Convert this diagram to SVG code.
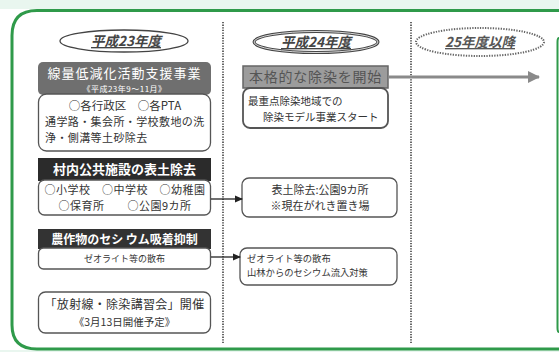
<svg xmlns="http://www.w3.org/2000/svg" width="559" height="352" viewBox="0 0 559 352">
<style>
  .jp{font-family:"Noto Sans CJK JP","Noto Sans",sans-serif}
  .wbox{fill:#fff;stroke:#555;stroke-width:1.3}
  .hd{font-family:"Noto Sans CJK JP",sans-serif;fill:#fff;text-anchor:middle}
  .tx{font-family:"Noto Sans CJK JP",sans-serif;fill:#333}
  .div{stroke:#666;stroke-width:2;stroke-dasharray:1.3 1.3;fill:none}
  .yr{font-family:"Noto Sans CJK JP",sans-serif;font-style:italic;font-weight:bold;text-anchor:middle;text-decoration:underline}
  .conn{stroke:#222;stroke-width:1.3;fill:none}
</style>
<defs>
  <marker id="ah" markerWidth="8" markerHeight="8" refX="7" refY="4" orient="auto" markerUnits="userSpaceOnUse">
    <path d="M0,0.5 L8,4 L0,7.5 Z" fill="#222"/>
  </marker>
  <marker id="ahg" markerWidth="12" markerHeight="12" refX="11" refY="6" orient="auto" markerUnits="userSpaceOnUse">
    <path d="M0,0 L12,6 L0,12 Z" fill="#8a8a8a"/>
  </marker>
</defs>
<rect width="559" height="352" fill="#fff"/>
<rect width="559" height="9" fill="#e9f6ef"/>
<rect y="350" width="559" height="2" fill="#e9f6ef"/>
<!-- outer frame -->
<path d="M559,10.5 L37,10.5 Q12,10.5 12,35.5 L12,325 Q12,349 37,349 L559,349" fill="none" stroke="#2f9a4a" stroke-width="3"/>
<path d="M559,38 Q557.5,38 557.5,42 L557.5,328 Q557.5,332 559,332" fill="none" stroke="#2f9a4a" stroke-width="2"/>
<!-- dividers -->
<line class="div" x1="223" y1="22" x2="223" y2="344"/>
<line class="div" x1="411" y1="22" x2="411" y2="344"/>

<!-- year headers -->
<g id="year23">
  <ellipse cx="124" cy="41" rx="64" ry="11" fill="#fff" stroke="#444" stroke-width="1.3"/>
  <text class="yr" x="126" y="46" font-size="13.5" fill="#444">平成23年度</text>
</g>
<g id="year24">
  <ellipse cx="316" cy="42" rx="62" ry="10.5" fill="#fff" stroke="#444" stroke-width="3"/>
  <ellipse cx="316" cy="42" rx="62" ry="10.5" fill="none" stroke="#fff" stroke-width="0.8"/>
  <text class="yr" x="316" y="47" font-size="13.5" fill="#444">平成24年度</text>
</g>
<g id="year25">
  <ellipse cx="480" cy="42" rx="64" ry="14" fill="#fff" stroke="#666" stroke-width="2" stroke-dasharray="1.3 1.3"/>
  <text class="yr" x="480" y="47" font-size="13.5" fill="#555">25年度以降</text>
</g>

<!-- col1 box1 -->
<g id="support">
  <rect x="38" y="62" width="173" height="33" rx="5" fill="#6f6f6f"/>
  <text class="hd" x="124.5" y="78" font-size="13" letter-spacing="1">線量低減化活動支援事業</text>
  <text class="hd" x="124.5" y="92" font-size="8" letter-spacing="0.5">《平成23年9～11月》</text>
  <rect class="wbox" x="38.5" y="94" width="172" height="57" rx="8"/>
  <text class="tx" x="125" y="110" font-size="11.5" text-anchor="middle">○各行政区　○各PTA</text>
  <text class="tx" x="45" y="126" font-size="11" letter-spacing="0.4">通学路・集会所・学校敷地の洗</text>
  <text class="tx" x="45" y="142" font-size="11" letter-spacing="0.4">浄・側溝等土砂除去</text>
</g>
<!-- col1 box2 -->
<g id="public">
  <rect x="38" y="158" width="173" height="23" fill="#2b2b2b"/>
  <text class="hd" x="124.5" y="174" font-size="13" font-weight="bold">村内公共施設の表土除去</text>
  <rect class="wbox" x="38.5" y="180" width="172" height="35" rx="6"/>
  <text class="tx" x="125" y="194" font-size="11" text-anchor="middle" letter-spacing="0.5">○小学校　○中学校　○幼稚園</text>
  <text class="tx" x="125" y="210" font-size="11" text-anchor="middle" letter-spacing="0.5">○保育所　　○公園9カ所</text>
</g>
<!-- col1 box3 -->
<g id="crops">
  <rect x="38" y="229" width="173" height="20" fill="#333"/>
  <text class="hd" x="124.5" y="244" font-size="12" font-weight="bold">農作物のセシ ウム吸着抑制</text>
  <rect class="wbox" x="38.5" y="248" width="172" height="21" rx="5"/>
  <text class="tx" x="124.5" y="261.5" font-size="9" text-anchor="middle">ゼオライト等の散布</text>
</g>
<!-- col1 box4 -->
<g id="seminar">
  <rect class="wbox" x="38.5" y="292" width="172" height="41" rx="7"/>
  <text class="tx" x="124.5" y="309" font-size="12" text-anchor="middle" letter-spacing="0.3">「放射線・除染講習会」開催</text>
  <text class="tx" x="124.5" y="326" font-size="10.5" text-anchor="middle">《3月13日開催予定》</text>
</g>

<!-- col2 box1 -->
<g id="fullscale">
  <rect x="243" y="66" width="145" height="22" fill="#9c9c9c" stroke="#666" stroke-width="1.5"/>
  <text x="315.5" y="82" font-size="14" text-anchor="middle" class="jp" fill="#555" letter-spacing="0.8">本格的な除染を開始</text>
  <rect x="243" y="88" width="145" height="40" rx="7" fill="#fff" stroke="#555" stroke-width="1.8"/>
  <text class="tx" x="248" y="105" font-size="10.5">最重点除染地域での</text>
  <text class="tx" x="263" y="121" font-size="10.5">除染モデル事業スタート</text>
</g>
<!-- col2 box2 -->
<g id="topsoil">
  <rect class="wbox" x="242" y="178" width="155" height="39" rx="7" stroke-width="1.6"/>
  <text class="tx" x="320" y="194" font-size="11" text-anchor="middle">表土除去:公園9カ所</text>
  <text class="tx" x="320" y="210" font-size="11" text-anchor="middle">※現在がれき置き場</text>
</g>
<!-- col2 box3 -->
<g id="zeolite">
  <rect class="wbox" x="240" y="248" width="157" height="37" rx="7" stroke-width="1.6"/>
  <text class="tx" x="247" y="262" font-size="9.3">ゼオライト等の散布</text>
  <text class="tx" x="247" y="276" font-size="9.3">山林からのセシウム流入対策</text>
</g>

<!-- connectors -->
<g id="connectors">
  <line x1="388" y1="77" x2="539" y2="77" stroke="#8a8a8a" stroke-width="3" marker-end="url(#ahg)"/>
  <line class="conn" x1="211" y1="199" x2="242" y2="199" marker-end="url(#ah)"/>
  <line class="conn" x1="211" y1="257" x2="240" y2="257" marker-end="url(#ah)"/>
</g>
</svg>
